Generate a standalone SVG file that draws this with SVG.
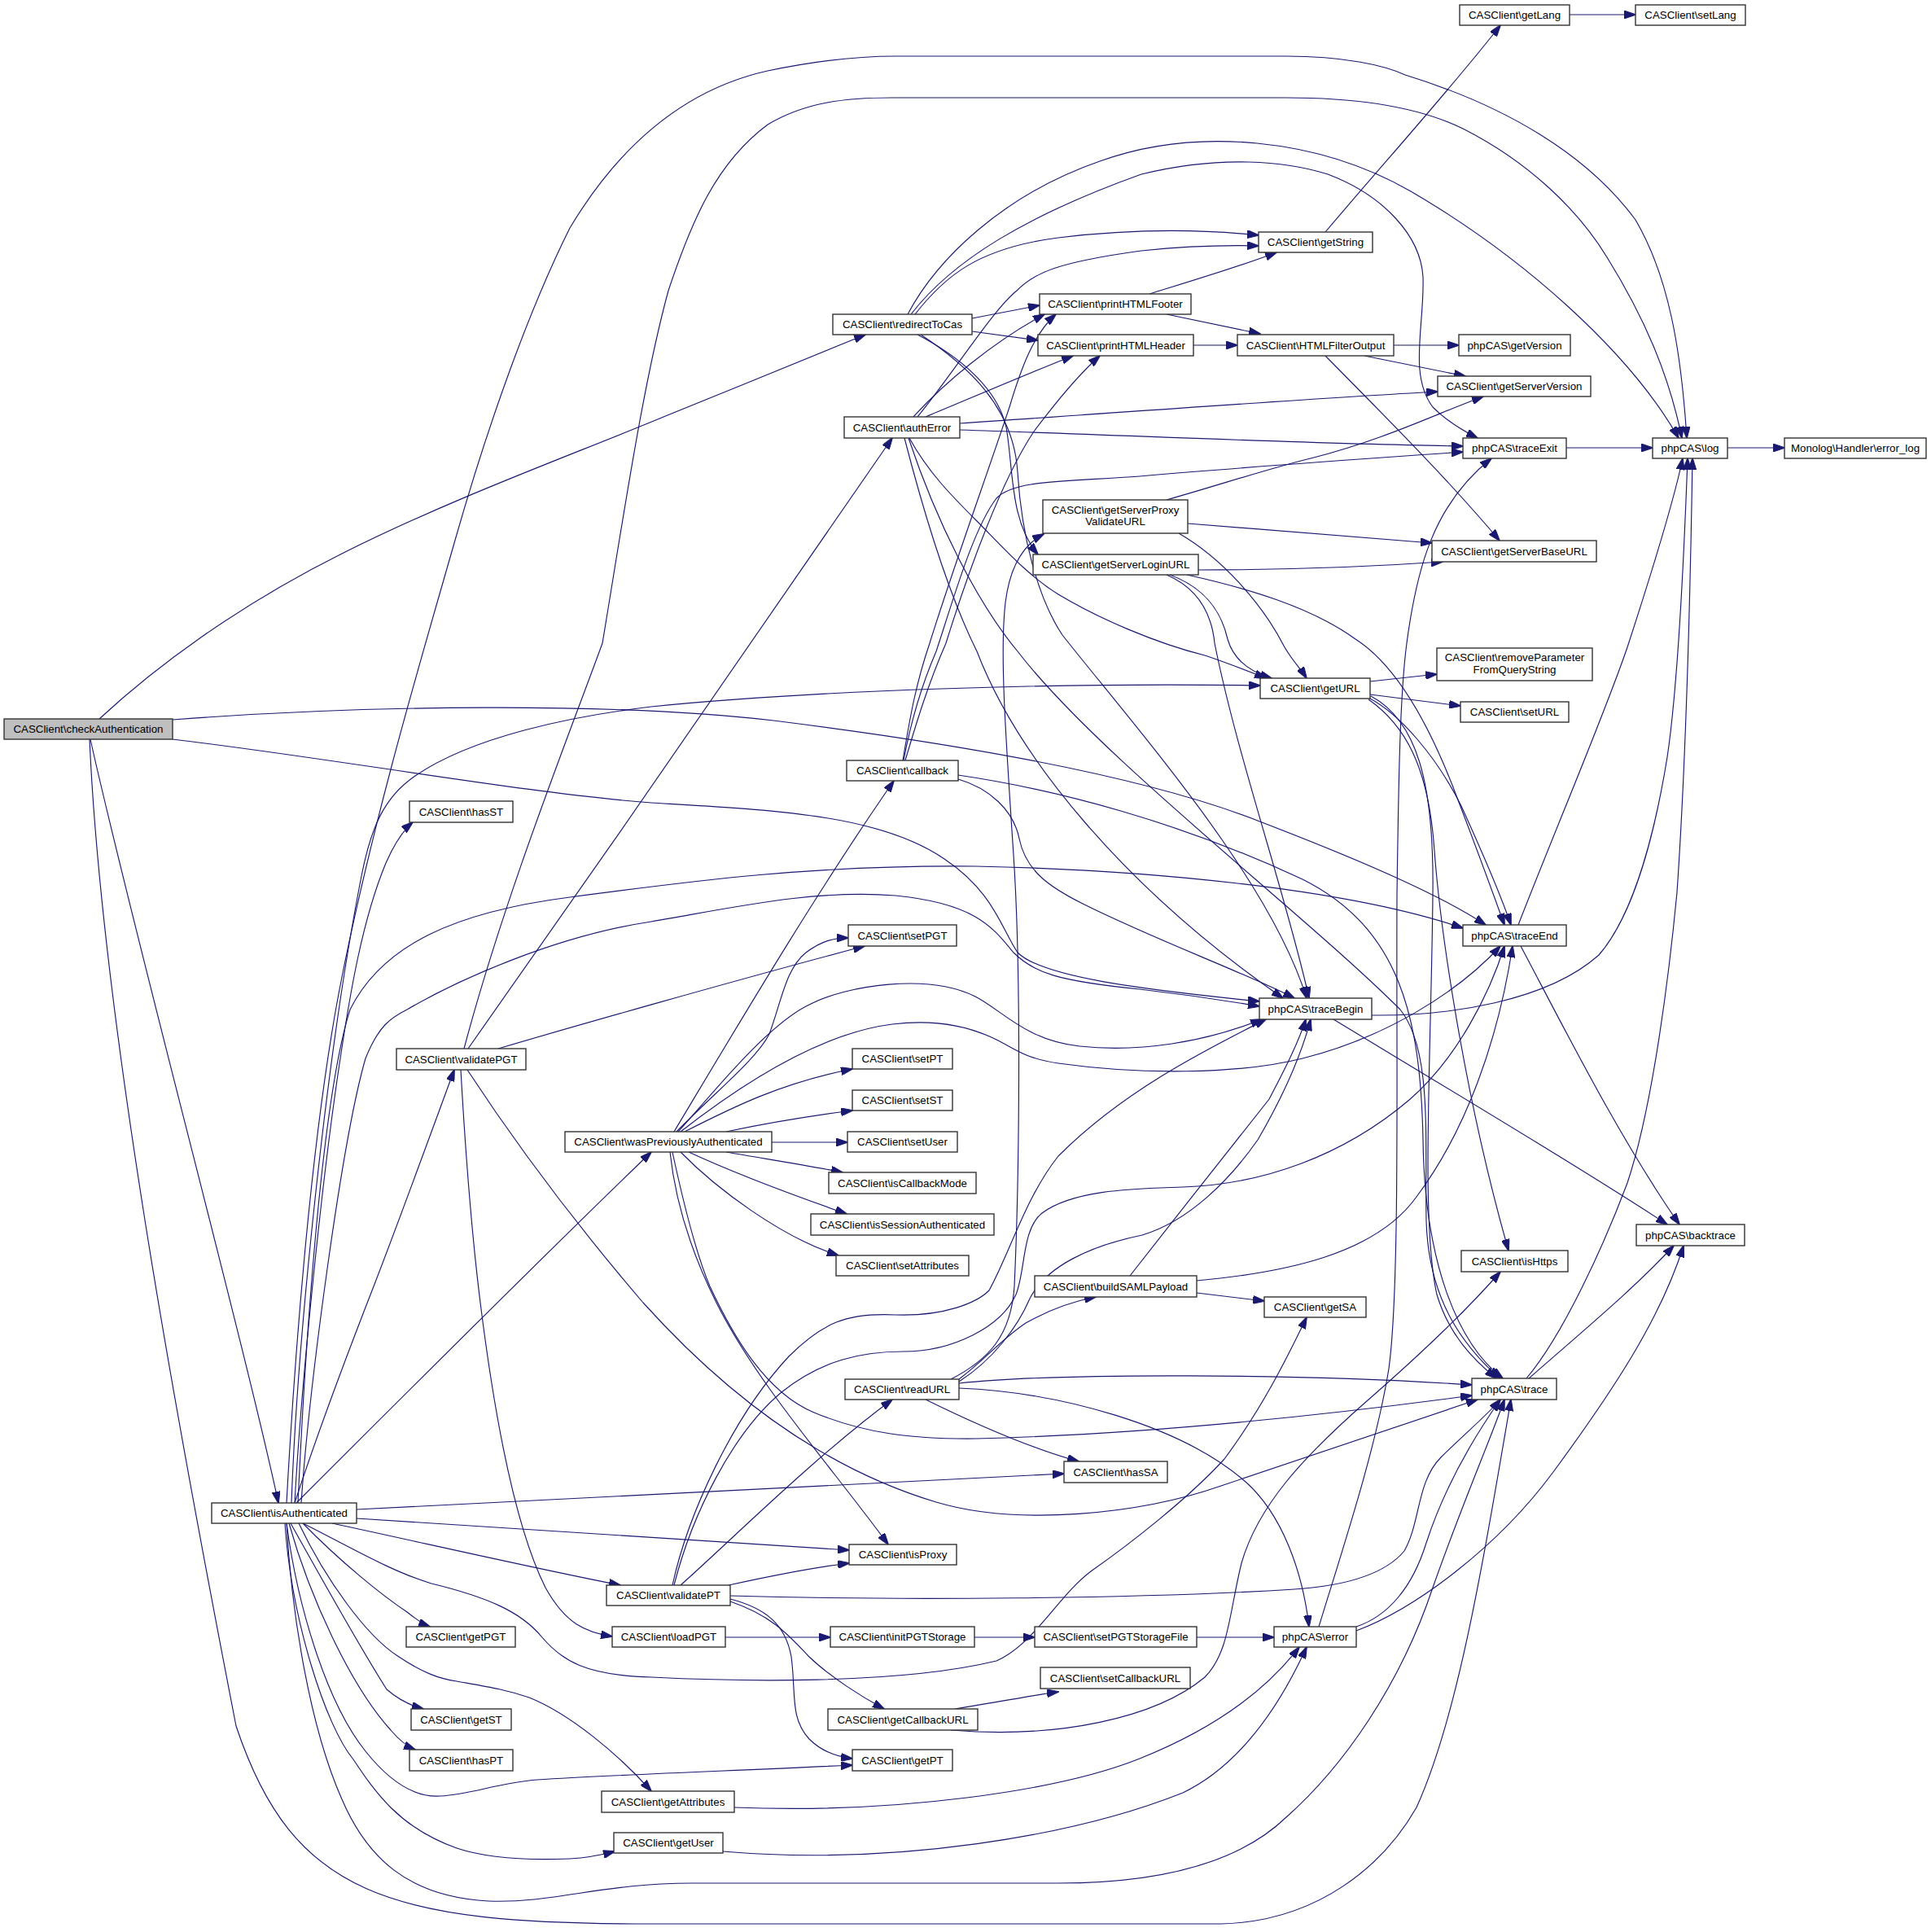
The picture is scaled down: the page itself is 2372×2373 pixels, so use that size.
<svg xmlns="http://www.w3.org/2000/svg" width="2372" height="2373" viewBox="0 0 2372 2373">
<defs>
<marker id="ah" markerWidth="15" markerHeight="10" refX="14" refY="5" orient="auto" markerUnits="userSpaceOnUse"><path d="M0,0 L15,5 L0,10 z" fill="#191970" stroke="#191970" stroke-width="1"/></marker>
<style>
.node rect{fill:#ffffff;stroke:#333333;stroke-width:1.4}
.node rect.hl{fill:#bfbfbf}
.node text{font-family:"Liberation Sans",Arial,Helvetica,sans-serif;font-size:13.3px;fill:#000000;text-anchor:middle}
#edges path{fill:none;stroke:#191970;stroke-width:1.15;marker-end:url(#ah)}
</style>
</defs>
<rect x="0" y="0" width="2372" height="2373" fill="#ffffff"/>
<g id="edges">
<path d="M122,883 C190,820 290,745 420,680 C560,610 700,560 820,510 C900,478 990,440 1063,411"/>
<path d="M212,884 C450,866 750,862 950,885 C1150,910 1400,950 1550,1010 C1680,1060 1770,1100 1825,1136"/>
<path d="M212,908 C400,930 650,975 800,986 C950,995 1080,1000 1160,1055 C1220,1095 1230,1140 1250,1170 C1280,1200 1400,1215 1547,1230"/>
<path d="M111,908 C160,1130 300,1650 342,1846"/>
<path d="M110,908 C125,1250 220,1760 290,2120 C360,2330 480,2363 800,2363 L1500,2363 C1620,2360 1700,2290 1740,2220 C1790,2110 1820,1930 1856,1719"/>
<path d="M1194,391 L1277,375"/>
<path d="M1194,407 L1275,418"/>
<path d="M1115,386 C1150,320 1230,240 1351,198 C1470,155 1620,170 1733,235 C1870,315 2000,430 2062,538"/>
<path d="M1119,386 C1170,320 1260,265 1402,214 C1500,190 1580,198 1631,214 C1700,240 1745,290 1748,340 C1750,400 1730,460 1760,500 C1775,515 1795,528 1815,538"/>
<path d="M1124,386 C1160,340 1200,305 1300,292 C1400,280 1480,282 1546,289"/>
<path d="M1127,411 C1175,436 1225,475 1236,525 C1245,575 1240,640 1275,681"/>
<path d="M1131,411 C1190,450 1245,500 1250,580 C1255,660 1275,735 1305,780 C1400,900 1560,1080 1605,1226"/>
<path d="M1122,512 C1160,470 1220,420 1283,386"/>
<path d="M1127,512 C1170,460 1220,380 1249,357 C1270,335 1300,322 1402,308 C1460,302 1510,301 1546,302"/>
<path d="M1137,512 C1190,490 1260,460 1318,437"/>
<path d="M1179,520 C1400,505 1600,490 1766,481"/>
<path d="M1179,528 C1400,535 1600,545 1797,548"/>
<path d="M1111,538 C1140,650 1170,740 1200,800 C1250,930 1380,1090 1576,1226"/>
<path d="M1116,538 C1150,640 1200,740 1250,800 C1350,930 1600,1120 1720,1240 C1760,1290 1750,1400 1752,1500 C1755,1600 1800,1655 1842,1693"/>
<path d="M1928,18 L2009,18"/>
<path d="M1628,285 C1700,200 1790,100 1843,31"/>
<path d="M1412,361 C1480,340 1530,325 1568,310"/>
<path d="M1433,386 L1548,410"/>
<path d="M1466,424 L1520,424"/>
<path d="M1712,424 L1792,424"/>
<path d="M1676,437 L1800,462"/>
<path d="M1628,437 C1700,510 1780,590 1842,664"/>
<path d="M1924,550 L2030,550"/>
<path d="M2122,550 L2192,550"/>
<path d="M1433,614 C1500,595 1560,575 1610,563 C1700,540 1760,510 1822,487"/>
<path d="M1459,643 C1580,652 1680,660 1759,667"/>
<path d="M1448,655 C1500,685 1550,740 1578,795 C1588,812 1598,822 1605,833"/>
<path d="M1472,700 C1600,700 1700,695 1772,690"/>
<path d="M1437,706 C1480,722 1500,750 1508,785 C1515,810 1535,825 1562,833"/>
<path d="M1433,706 C1470,722 1488,750 1492,790 C1520,930 1580,1100 1608,1226"/>
<path d="M1458,706 C1530,722 1610,745 1665,785 C1720,820 1760,900 1790,980 C1815,1045 1835,1100 1848,1136"/>
<path d="M1683,837 L1765,828"/>
<path d="M1683,853 L1794,867"/>
<path d="M1681,857 C1720,877 1765,930 1795,990 C1820,1045 1842,1095 1856,1136"/>
<path d="M1681,859 C1725,890 1755,940 1762,1045 C1770,1150 1800,1350 1853,1536"/>
<path d="M1684,855 C1740,885 1762,960 1760,1100 C1758,1300 1745,1500 1765,1590 C1780,1640 1810,1670 1838,1693"/>
<path d="M1177,952 C1300,970 1450,1010 1600,1080 C1720,1140 1745,1250 1748,1400 C1750,1550 1790,1650 1846,1693"/>
<path d="M1109,934 C1118,880 1125,840 1142,790 C1170,700 1210,590 1240,500 C1255,450 1270,410 1297,386"/>
<path d="M1112,934 C1125,890 1140,840 1162,790 C1190,700 1230,590 1270,530 C1300,490 1325,460 1351,437"/>
<path d="M1110,934 C1120,880 1135,835 1150,800 C1170,740 1195,650 1224,612 C1245,590 1300,592 1400,585 C1550,572 1700,562 1797,555"/>
<path d="M1177,957 C1215,968 1245,995 1252,1030 C1260,1070 1290,1090 1330,1110 C1420,1155 1530,1195 1590,1226"/>
<path d="M570,1288 C620,1100 700,900 740,790 C765,640 790,470 821,357 C850,270 880,200 943,153 C990,125 1040,120 1096,120 L1580,120 C1680,120 1750,135 1797,158 C1880,200 1940,260 1974,316 C2020,390 2050,460 2066,538"/>
<path d="M575,1288 C750,1040 930,780 1096,538"/>
<path d="M612,1288 C700,1262 900,1205 1062,1162"/>
<path d="M566,1314 C572,1420 580,1520 590,1600 C605,1720 630,1870 670,1950 C695,1995 720,2005 752,2010"/>
<path d="M574,1314 C650,1430 730,1530 790,1600 C880,1700 1000,1800 1150,1845 C1250,1875 1400,1860 1500,1825 C1620,1785 1720,1750 1815,1719"/>
<path d="M828,1390 C900,1270 1000,1100 1098,959"/>
<path d="M831,1390 C880,1340 930,1300 945,1270 C960,1230 965,1190 990,1170 C1010,1155 1025,1152 1042,1152"/>
<path d="M833,1390 C870,1350 940,1260 994,1234 C1040,1210 1140,1195 1198,1224 C1230,1240 1260,1278 1326,1285 C1400,1293 1480,1280 1550,1252"/>
<path d="M836,1390 C900,1340 1000,1270 1096,1258 C1160,1250 1200,1265 1224,1277 C1250,1290 1260,1300 1300,1306 C1400,1320 1520,1320 1600,1300 C1700,1275 1790,1220 1843,1162"/>
<path d="M841,1390 C900,1360 960,1330 1047,1313"/>
<path d="M892,1390 C940,1380 1000,1370 1047,1364"/>
<path d="M948,1403 L1041,1403"/>
<path d="M892,1415 C950,1425 1000,1433 1035,1440"/>
<path d="M846,1415 C900,1440 980,1470 1040,1491"/>
<path d="M836,1415 C880,1460 960,1520 1030,1542"/>
<path d="M823,1415 C830,1480 850,1540 880,1600 C930,1700 1020,1800 1091,1897"/>
<path d="M826,1415 C840,1480 855,1540 872,1580 C900,1640 940,1710 1000,1735 C1060,1760 1120,1768 1200,1767 C1400,1762 1600,1742 1808,1714"/>
<path d="M1470,1588 L1553,1598"/>
<path d="M1388,1567 C1440,1500 1520,1400 1559,1350 C1580,1310 1595,1280 1604,1252"/>
<path d="M1470,1573 C1580,1563 1690,1540 1740,1470 C1800,1390 1840,1280 1858,1162"/>
<path d="M1168,1694 C1215,1670 1242,1640 1246,1580 C1252,1450 1255,1200 1245,1050 C1235,900 1228,800 1235,740 C1240,700 1255,670 1282,656"/>
<path d="M1178,1694 C1210,1670 1230,1645 1260,1625 C1290,1608 1320,1598 1346,1593"/>
<path d="M1178,1697 C1220,1670 1250,1630 1265,1595 C1285,1555 1340,1530 1403,1517 C1460,1500 1510,1450 1545,1400 C1580,1340 1600,1290 1610,1252"/>
<path d="M1178,1699 C1300,1686 1600,1687 1808,1701"/>
<path d="M1178,1705 C1300,1710 1450,1750 1530,1820 C1575,1860 1600,1930 1608,1998"/>
<path d="M1137,1719 C1200,1750 1270,1780 1325,1795"/>
<path d="M826,1947 C845,1860 900,1740 969,1666 C1010,1625 1040,1612 1100,1615 C1160,1617 1200,1600 1215,1585 C1240,1540 1260,1470 1300,1420 C1380,1340 1480,1290 1555,1252"/>
<path d="M828,1947 C850,1860 900,1760 960,1710 C1010,1670 1060,1660 1110,1660 C1170,1660 1230,1630 1248,1590 C1260,1560 1255,1510 1280,1490 C1320,1460 1400,1460 1453,1458 C1550,1455 1650,1420 1731,1351 C1790,1300 1830,1220 1848,1162"/>
<path d="M836,1947 C900,1890 1000,1790 1096,1719"/>
<path d="M895,1947 C950,1935 1000,1925 1043,1920"/>
<path d="M897,1960 C1100,1966 1400,1964 1590,1952 C1650,1948 1700,1935 1725,1905 C1745,1870 1740,1820 1770,1790 C1800,1760 1825,1740 1843,1719"/>
<path d="M897,1964 C940,1975 965,1995 972,2035 C978,2080 970,2110 994,2136 C1010,2152 1030,2158 1047,2160"/>
<path d="M897,1967 C950,1985 970,2010 994,2035 C1020,2060 1060,2085 1086,2099"/>
<path d="M891,2011 L1020,2011"/>
<path d="M1197,2011 L1271,2011"/>
<path d="M1470,2011 L1565,2011"/>
<path d="M1173,2099 C1230,2090 1270,2082 1300,2078"/>
<path d="M1168,2125 C1300,2136 1420,2110 1480,2060 C1510,2030 1510,1980 1525,1920 C1545,1850 1600,1790 1680,1720 C1760,1650 1810,1600 1843,1562"/>
<path d="M902,2220 C1100,2228 1300,2200 1400,2160 C1500,2120 1560,2070 1596,2023"/>
<path d="M888,2274 C1100,2292 1320,2255 1453,2202 C1520,2170 1570,2100 1605,2023"/>
<path d="M1865,1136 C1910,1020 1970,880 1999,795 C2030,700 2055,620 2067,563"/>
<path d="M1868,1162 C1920,1260 1990,1400 2063,1504"/>
<path d="M1685,1247 C1780,1248 1900,1230 1964,1173 C2010,1120 2035,1010 2048,930 C2060,850 2068,700 2073,563"/>
<path d="M1638,1252 C1800,1350 1950,1440 2048,1504"/>
<path d="M1875,1693 C1920,1640 1970,1530 1999,1453 C2030,1360 2050,1200 2060,1096 C2070,950 2076,750 2079,563"/>
<path d="M1878,1693 C1950,1630 2010,1580 2056,1530"/>
<path d="M1620,1998 C1650,1900 1690,1780 1706,1681 C1720,1580 1715,1300 1716,1100 C1718,950 1720,850 1728,790 C1740,700 1760,620 1832,563"/>
<path d="M1666,1998 C1705,1985 1735,1950 1752,1895 C1770,1840 1800,1780 1843,1719"/>
<path d="M1666,2003 C1740,1975 1840,1900 1908,1808 C1980,1710 2040,1620 2068,1530"/>
<path d="M352,1846 C360,1700 380,1400 420,1200 C460,1000 520,800 560,660 C600,520 650,380 700,280 C760,180 840,110 943,87 C1000,75 1050,69 1100,69 L1580,69 C1650,69 1700,80 1726,92 C1850,130 1950,190 2009,270 C2050,340 2065,430 2072,538"/>
<path d="M358,1846 C365,1650 400,1300 444,1076 C455,1020 470,980 510,953 C580,905 700,880 800,868 C1000,848 1300,838 1548,842"/>
<path d="M362,1846 C370,1700 395,1450 418,1300 C430,1220 445,1130 474,1060 C485,1035 495,1020 507,1010"/>
<path d="M366,1846 C375,1650 395,1350 430,1240 C470,1160 560,1120 700,1102 C850,1082 1000,1062 1198,1064 C1400,1068 1650,1090 1797,1140"/>
<path d="M370,1846 C380,1700 420,1400 449,1300 C465,1260 480,1250 500,1240 C560,1205 680,1150 800,1132 C900,1115 1000,1092 1100,1100 C1200,1110 1220,1140 1245,1170 C1270,1195 1300,1205 1400,1215 C1460,1222 1500,1228 1547,1236"/>
<path d="M362,1846 C390,1760 420,1680 459,1580 C490,1500 530,1390 558,1314"/>
<path d="M364,1846 C500,1710 680,1530 800,1415"/>
<path d="M438,1854 C800,1838 1100,1822 1307,1810"/>
<path d="M438,1865 C700,1880 900,1895 1043,1904"/>
<path d="M408,1871 C520,1895 650,1925 762,1947"/>
<path d="M372,1871 C430,1900 480,1930 530,1945 C600,1962 640,1980 665,2010 C690,2040 720,2058 800,2060 C900,2065 1100,2070 1224,2040 C1270,2020 1300,1960 1340,1930 C1390,1895 1460,1840 1504,1792 C1550,1730 1580,1670 1605,1618"/>
<path d="M367,1871 C400,1940 450,2010 490,2035 C520,2055 540,2062 561,2065 C600,2072 620,2075 650,2085 C700,2105 760,2155 800,2200"/>
<path d="M357,1871 C390,1930 440,2020 475,2075 C490,2088 505,2095 520,2099"/>
<path d="M372,1871 C420,1920 470,1960 500,1980 C510,1988 520,1995 528,1998"/>
<path d="M355,1871 C380,1960 430,2070 480,2125 C490,2137 500,2145 510,2149"/>
<path d="M352,1871 C365,1970 400,2090 449,2151 C480,2190 510,2208 541,2206 C580,2204 610,2190 660,2186 C750,2180 900,2175 1047,2168"/>
<path d="M350,1871 C358,1990 400,2120 434,2161 C460,2200 490,2245 561,2270 C600,2283 650,2285 700,2283 C720,2282 740,2278 755,2274"/>
<path d="M352,1871 C358,1980 380,2120 420,2210 C450,2280 500,2330 600,2335 C680,2338 740,2313 850,2313 L1300,2313 C1420,2313 1520,2290 1580,2232 C1650,2170 1720,2070 1760,1950 C1795,1850 1830,1770 1848,1719"/>
<path d="M1117,538 C1140,580 1170,610 1198,638 C1230,670 1260,705 1300,730 C1350,760 1420,790 1480,805 C1510,815 1535,825 1555,833"/>
</g>
<g id="n_checkAuthentication" class="node"><rect class="hl" x="5" y="883" width="207" height="25"/><text x="108.5" y="900">CASClient\checkAuthentication</text></g>
<g id="n_redirectToCas" class="node"><rect x="1023" y="386" width="171" height="25"/><text x="1108.5" y="403">CASClient\redirectToCas</text></g>
<g id="n_authError" class="node"><rect x="1037" y="512" width="142" height="26"/><text x="1108" y="530">CASClient\authError</text></g>
<g id="n_getLang" class="node"><rect x="1793" y="6" width="135" height="25"/><text x="1860.5" y="23">CASClient\getLang</text></g>
<g id="n_setLang" class="node"><rect x="2009" y="6" width="135" height="25"/><text x="2076.5" y="23">CASClient\setLang</text></g>
<g id="n_getString" class="node"><rect x="1546" y="285" width="140" height="25"/><text x="1616" y="302">CASClient\getString</text></g>
<g id="n_printHTMLFooter" class="node"><rect x="1277" y="361" width="186" height="25"/><text x="1370" y="378">CASClient\printHTMLFooter</text></g>
<g id="n_printHTMLHeader" class="node"><rect x="1275" y="411" width="191" height="26"/><text x="1370.5" y="429">CASClient\printHTMLHeader</text></g>
<g id="n_HTMLFilterOutput" class="node"><rect x="1520" y="411" width="192" height="26"/><text x="1616" y="429">CASClient\HTMLFilterOutput</text></g>
<g id="n_getVersion" class="node"><rect x="1792" y="411" width="137" height="26"/><text x="1860.5" y="429">phpCAS\getVersion</text></g>
<g id="n_getServerVersion" class="node"><rect x="1766" y="462" width="188" height="25"/><text x="1860" y="479">CASClient\getServerVersion</text></g>
<g id="n_traceExit" class="node"><rect x="1797" y="538" width="127" height="25"/><text x="1860.5" y="555">phpCAS\traceExit</text></g>
<g id="n_log" class="node"><rect x="2030" y="538" width="92" height="25"/><text x="2076" y="555">phpCAS\log</text></g>
<g id="n_error_log" class="node"><rect x="2192" y="538" width="174" height="25"/><text x="2279" y="555">Monolog\Handler\error_log</text></g>
<g id="n_getServerProxyValidateURL" class="node"><rect x="1281" y="614" width="178" height="41"/><text x="1370" y="631">CASClient\getServerProxy</text><text x="1370" y="645">ValidateURL</text></g>
<g id="n_getServerBaseURL" class="node"><rect x="1759" y="664" width="202" height="26"/><text x="1860" y="682">CASClient\getServerBaseURL</text></g>
<g id="n_getServerLoginURL" class="node"><rect x="1269" y="681" width="203" height="25"/><text x="1370.5" y="698">CASClient\getServerLoginURL</text></g>
<g id="n_removeParameterFromQueryString" class="node"><rect x="1765" y="796" width="191" height="40"/><text x="1860.5" y="812">CASClient\removeParameter</text><text x="1860.5" y="827">FromQueryString</text></g>
<g id="n_getURL" class="node"><rect x="1548" y="833" width="135" height="25"/><text x="1615.5" y="850">CASClient\getURL</text></g>
<g id="n_setURL" class="node"><rect x="1794" y="862" width="133" height="25"/><text x="1860.5" y="879">CASClient\setURL</text></g>
<g id="n_hasST" class="node"><rect x="503" y="984" width="127" height="26"/><text x="566.5" y="1002">CASClient\hasST</text></g>
<g id="n_callback" class="node"><rect x="1040" y="934" width="137" height="25"/><text x="1108.5" y="951">CASClient\callback</text></g>
<g id="n_setPGT" class="node"><rect x="1042" y="1136" width="133" height="26"/><text x="1108.5" y="1154">CASClient\setPGT</text></g>
<g id="n_traceEnd" class="node"><rect x="1797" y="1136" width="127" height="26"/><text x="1860.5" y="1154">phpCAS\traceEnd</text></g>
<g id="n_traceBegin" class="node"><rect x="1547" y="1226" width="138" height="26"/><text x="1616" y="1244">phpCAS\traceBegin</text></g>
<g id="n_validatePGT" class="node"><rect x="487" y="1288" width="159" height="26"/><text x="566.5" y="1306">CASClient\validatePGT</text></g>
<g id="n_setPT" class="node"><rect x="1047" y="1288" width="123" height="25"/><text x="1108.5" y="1305">CASClient\setPT</text></g>
<g id="n_setST" class="node"><rect x="1047" y="1339" width="123" height="25"/><text x="1108.5" y="1356">CASClient\setST</text></g>
<g id="n_wasPreviouslyAuthenticated" class="node"><rect x="694" y="1390" width="254" height="25"/><text x="821" y="1407">CASClient\wasPreviouslyAuthenticated</text></g>
<g id="n_setUser" class="node"><rect x="1041" y="1390" width="135" height="25"/><text x="1108.5" y="1407">CASClient\setUser</text></g>
<g id="n_isCallbackMode" class="node"><rect x="1018" y="1440" width="181" height="26"/><text x="1108.5" y="1458">CASClient\isCallbackMode</text></g>
<g id="n_isSessionAuthenticated" class="node"><rect x="996" y="1491" width="225" height="26"/><text x="1108.5" y="1509">CASClient\isSessionAuthenticated</text></g>
<g id="n_setAttributes" class="node"><rect x="1027" y="1542" width="163" height="25"/><text x="1108.5" y="1559">CASClient\setAttributes</text></g>
<g id="n_backtrace" class="node"><rect x="2010" y="1504" width="133" height="26"/><text x="2076.5" y="1522">phpCAS\backtrace</text></g>
<g id="n_isHttps" class="node"><rect x="1795" y="1536" width="131" height="26"/><text x="1860.5" y="1554">CASClient\isHttps</text></g>
<g id="n_buildSAMLPayload" class="node"><rect x="1271" y="1567" width="199" height="26"/><text x="1370.5" y="1585">CASClient\buildSAMLPayload</text></g>
<g id="n_getSA" class="node"><rect x="1553" y="1593" width="125" height="25"/><text x="1615.5" y="1610">CASClient\getSA</text></g>
<g id="n_readURL" class="node"><rect x="1038" y="1694" width="140" height="25"/><text x="1108" y="1711">CASClient\readURL</text></g>
<g id="n_trace" class="node"><rect x="1808" y="1693" width="104" height="26"/><text x="1860" y="1711">phpCAS\trace</text></g>
<g id="n_hasSA" class="node"><rect x="1307" y="1795" width="127" height="26"/><text x="1370.5" y="1813">CASClient\hasSA</text></g>
<g id="n_isAuthenticated" class="node"><rect x="260" y="1846" width="178" height="25"/><text x="349" y="1863">CASClient\isAuthenticated</text></g>
<g id="n_isProxy" class="node"><rect x="1043" y="1897" width="132" height="25"/><text x="1109" y="1914">CASClient\isProxy</text></g>
<g id="n_validatePT" class="node"><rect x="745" y="1947" width="152" height="25"/><text x="821" y="1964">CASClient\validatePT</text></g>
<g id="n_getPGT" class="node"><rect x="499" y="1998" width="134" height="25"/><text x="566" y="2015">CASClient\getPGT</text></g>
<g id="n_loadPGT" class="node"><rect x="752" y="1998" width="139" height="25"/><text x="821.5" y="2015">CASClient\loadPGT</text></g>
<g id="n_initPGTStorage" class="node"><rect x="1020" y="1998" width="177" height="25"/><text x="1108.5" y="2015">CASClient\initPGTStorage</text></g>
<g id="n_setPGTStorageFile" class="node"><rect x="1271" y="1998" width="199" height="25"/><text x="1370.5" y="2015">CASClient\setPGTStorageFile</text></g>
<g id="n_error" class="node"><rect x="1565" y="1998" width="101" height="25"/><text x="1615.5" y="2015">phpCAS\error</text></g>
<g id="n_setCallbackURL" class="node"><rect x="1278" y="2048" width="184" height="26"/><text x="1370" y="2066">CASClient\setCallbackURL</text></g>
<g id="n_getCallbackURL" class="node"><rect x="1017" y="2099" width="184" height="26"/><text x="1109" y="2117">CASClient\getCallbackURL</text></g>
<g id="n_getST" class="node"><rect x="505" y="2099" width="123" height="26"/><text x="566.5" y="2117">CASClient\getST</text></g>
<g id="n_hasPT" class="node"><rect x="503" y="2149" width="127" height="26"/><text x="566.5" y="2167">CASClient\hasPT</text></g>
<g id="n_getPT" class="node"><rect x="1047" y="2149" width="123" height="26"/><text x="1108.5" y="2167">CASClient\getPT</text></g>
<g id="n_getAttributes" class="node"><rect x="739" y="2200" width="163" height="26"/><text x="820.5" y="2218">CASClient\getAttributes</text></g>
<g id="n_getUser" class="node"><rect x="754" y="2251" width="134" height="25"/><text x="821" y="2268">CASClient\getUser</text></g>
</svg>
